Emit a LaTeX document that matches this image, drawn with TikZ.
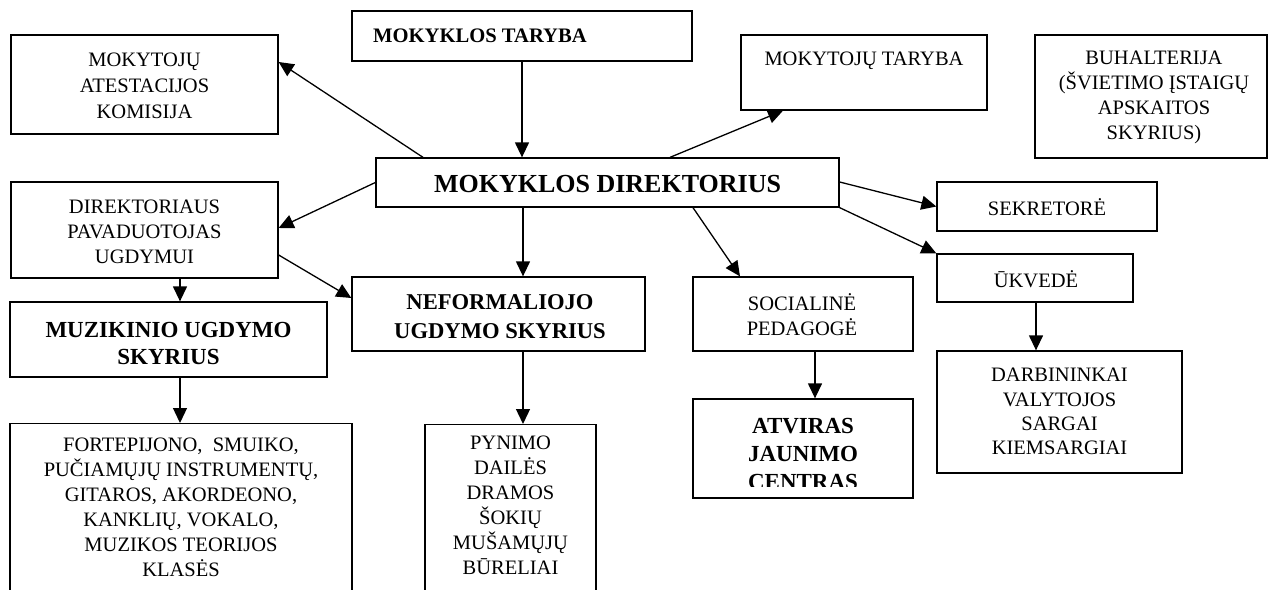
\documentclass[tikz,border=0pt]{standalone}
\usepackage{fontspec}
\setmainfont{Liberation Serif}
\usetikzlibrary{arrows.meta}
\tikzset{
  box/.style={draw, line width=1.3pt, inner sep=0pt},
  txt/.style={align=center, inner sep=0pt, font=\fontsize{20.5}{25}\selectfont},
  btxt/.style={align=center, inner sep=0pt, font=\fontsize{23}{27}\selectfont\bfseries},
  arr/.style={line width=1.3pt, -{Triangle[length=15pt,width=14pt]}}
}
\begin{document}
\begin{tikzpicture}[x=1pt,y=-1pt]
\clip (0,0) rectangle (1269,589);
\fill[white] (0,0) rectangle (1269,589);
% boxes
\node[box, minimum width=267pt, minimum height=99pt] (ates) at (144.5,84.5) {};
\node[box, minimum width=340pt, minimum height=50pt] (tar) at (522,36) {};
\node[box, minimum width=246pt, minimum height=75pt] (mt) at (864,72.5) {};
\node[box, minimum width=232pt, minimum height=123pt] (buh) at (1151,96.5) {};
\node[box, minimum width=463pt, minimum height=49pt] (dir) at (607.5,182.5) {};
\node[box, minimum width=267pt, minimum height=96pt] (pav) at (144.5,230) {};
\node[box, minimum width=220pt, minimum height=49pt] (sek) at (1047,206.5) {};
\node[box, minimum width=196pt, minimum height=48pt] (uk) at (1035,278) {};
\node[box, minimum width=293pt, minimum height=74pt] (nef) at (498.5,314) {};
\node[box, minimum width=220pt, minimum height=74pt] (soc) at (803,314) {};
\node[box, minimum width=317pt, minimum height=75pt] (muz) at (168.5,339.5) {};
\node[box, minimum width=245pt, minimum height=122pt] (darb) at (1059.5,412) {};
\node[box, minimum width=220pt, minimum height=99pt] (atv) at (803,448.5) {};
\node[box, minimum width=342pt, minimum height=190pt, anchor=north] (fort) at (181,423) {};
\node[box, minimum width=171pt, minimum height=190pt, anchor=north] (pyn) at (510.5,424) {};
% texts
\node[txt, font=\fontsize{20.5}{26}\selectfont] (atest) at (144.5,86) {MOKYTOJŲ\\ATESTACIJOS\\KOMISIJA};
\node[btxt, anchor=west, font=\fontsize{20.6}{24}\selectfont\bfseries] (tart) at (373,36) {MOKYKLOS TARYBA};
\node[txt] (mtt) at (864,61) {MOKYTOJŲ TARYBA};
\node[txt] (buht) at (1154,97.5) {BUHALTERIJA\\(ŠVIETIMO ĮSTAIGŲ\\APSKAITOS\\SKYRIUS)};
\node[btxt, font=\fontsize{26}{30}\selectfont\bfseries] (dirt) at (607.5,184) {MOKYKLOS DIREKTORIUS};
\node[txt] (pavt) at (144.5,232) {DIREKTORIAUS\\PAVADUOTOJAS\\UGDYMUI};
\node[txt] (sekt) at (1047,207) {SEKRETORĖ};
\node[txt] (ukt) at (1036,279) {ŪKVEDĖ};
\node[btxt, font=\fontsize{22.6}{29}\selectfont\bfseries] (neft) at (500,317) {NEFORMALIOJO\\UGDYMO SKYRIUS};
\node[txt] (soct) at (802,314.5) {SOCIALINĖ\\PEDAGOGĖ};
\node[btxt] (muzt) at (168.5,343.5) {MUZIKINIO UGDYMO\\SKYRIUS};
\node[txt, font=\fontsize{20.5}{24.2}\selectfont] (darbt) at (1059.5,411.5) {DARBININKAI\\VALYTOJOS\\SARGAI\\KIEMSARGIAI};
\begin{scope}
\clip (693,399) rectangle (913,486);
\node[btxt, font=\fontsize{23}{28}\selectfont\bfseries] (atvt) at (803,454) {ATVIRAS\\JAUNIMO\\CENTRAS};
\end{scope}
\node[txt, anchor=north] (fortt) at (181,438) {FORTEPIJONO,~ SMUIKO,\\PUČIAMŲJŲ INSTRUMENTŲ,\\GITAROS, AKORDEONO,\\KANKLIŲ, VOKALO,\\MUZIKOS TEORIJOS\\KLASĖS};
\node[txt, anchor=north] (pynt) at (510.5,436) {PYNIMO\\DAILĖS\\DRAMOS\\ŠOKIŲ\\MUŠAMŲJŲ\\BŪRELIAI};
% connectors
\draw[arr] (tar.south) -- (tar.south |- dir.north);
\draw[arr] (423,0 |- dir.north) -- (ates.east |- 0,62);
\draw[arr] (670,0 |- dir.north) -- (783,0 |- mt.south);
\draw[arr] (dir.west) -- (pav.east |- 0,228);
\draw[arr] (523,0 |- dir.south) -- (523,0 |- nef.north);
\draw[arr] (693,0 |- dir.south) -- (740,0 |- soc.north);
\draw[arr] (dir.north east |- 0,182) -- (sek.west);
\draw[arr] (dir.south east) -- (uk.north west);
\draw[arr] (180,0 |- pav.south) -- (180,0 |- muz.north);
\draw[arr] (pav.east |- 0,255) -- (nef.west |- 0,298);
\draw[arr] (180,0 |- muz.south) -- (180,0 |- fort.north);
\draw[arr] (523,0 |- nef.south) -- (523,0 |- pyn.north);
\draw[arr] (815,0 |- soc.south) -- (815,0 |- atv.north);
\draw[arr] (1036,0 |- uk.south) -- (1036,0 |- darb.north);
\end{tikzpicture}
\end{document}
